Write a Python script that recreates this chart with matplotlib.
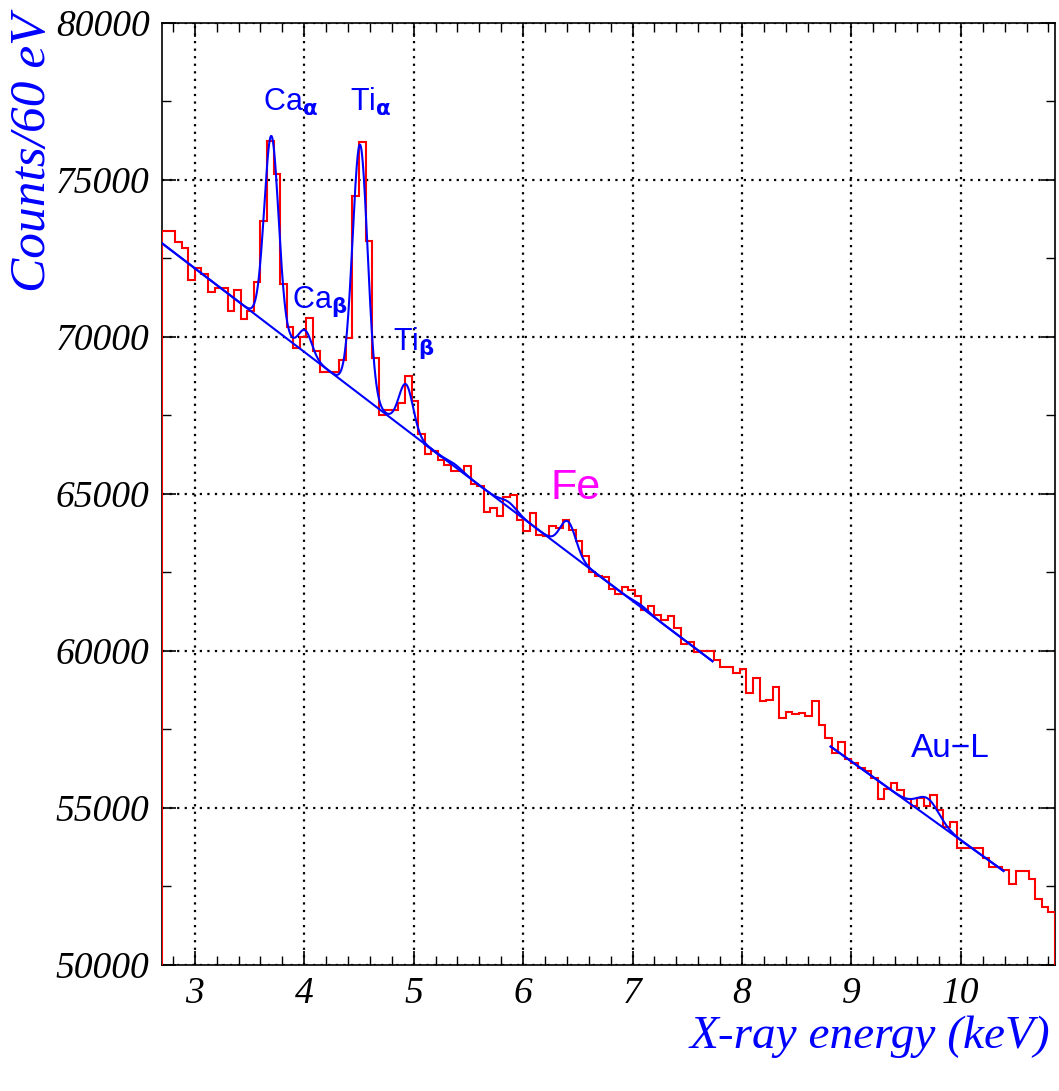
import numpy as np
import matplotlib
matplotlib.use('Agg')
import matplotlib.pyplot as plt
from matplotlib.ticker import MultipleLocator, ScalarFormatter

# ---------------- data ----------------
bin_start = 2.70          # keV, left edge of first bin
bin_width = 0.06          # keV (60 eV)
counts = [
    73358, 73358, 72998, 72807, 71800, 72193, 71981, 71430, 71557, 71536,
    70826, 71494, 70551, 70830, 71727, 73686, 76229, 75169, 71674, 70297,
    69650, 70000, 70583, 69545, 68888, 68888, 68888, 69259, 69968, 74470,
    76197, 73040, 69333, 67511, 67670, 67650, 67881, 68761, 67956, 66897,
    66270, 66348, 66083, 65900, 65711, 65711, 65892, 65318, 65234, 64405,
    64544, 64278, 64894, 64968, 64172, 63800, 64384, 63694, 63641, 63981,
    63907, 64150, 63832, 63482, 63004, 62495, 62367, 62346, 61964, 61815,
    62028, 61921, 61730, 61306, 61433, 61147, 60966, 61115, 60722, 60223,
    60297, 59947, 60000, 59979, 59713, 59480, 59480, 59289, 59416, 58652,
    59151, 58418, 58440, 58843, 57877, 58068, 57994, 58036, 57930, 58418,
    57643, 57240, 56741, 57091, 56560, 56444, 56284, 56178, 55966, 55286,
    55605, 55807, 55563, 55297, 55053, 55318, 55053, 55403, 54926, 54395,
    54554, 53737, 53737, 53737, 53737, 53418, 53121, 53121, 53015, 52590,
    52994, 52994, 52750, 52112, 51847, 51688,
]

# fit models (linear background + gaussian lines), parameters
fit_lo = [2.70, 5.10, 8.81]
fit_hi = [5.25, 7.73, 10.39]
fit_bg_ref = [2.70, 5.23, 8.81]
fit_bg_level = [72973, 66242, 56953]
fit_bg_slope = [-2660, -2629, -2506]
fit_centers = [[3.70, 4.01, 4.51, 4.93], [5.38, 5.87, 6.41, 7.08], [9.70]]
fit_amps = [[6075, 710, 7954, 1444], [80, 170, 980, 70], [570]]
fit_sigmas = [[0.065, 0.060, 0.068, 0.065], [0.07, 0.07, 0.072, 0.07], [0.10]]

# peak labels
label_texts = [r'Ca$_{\mathbf{\alpha}}$', r'Ti$_{\mathbf{\alpha}}$', r'Ca$_{\mathbf{\beta}}$',
               r'Ti$_{\mathbf{\beta}}$', 'Fe', 'Au\u2212L']
label_x = [3.623, 4.418, 3.888, 4.811, 6.250, 9.542]
label_y = [77198, 77198, 70900, 69563, 64828, 56617]
label_colors = ['blue', 'blue', 'blue', 'blue', 'magenta', 'blue']
label_sizes = [22, 22, 22, 22, 31, 24]

xlim = (2.70, 10.86)
ylim = (50000, 80000)

# ---------------- plot ----------------
W, H = 1059, 1091
fig = plt.figure(figsize=(W / 100, H / 100), dpi=100)
ax = fig.add_axes([162 / W, 1 - 965 / H, (1055 - 162) / W, (965 - 22.5) / H])

edges = bin_start + bin_width * np.arange(len(counts) + 1)
ax.stairs(counts, edges, baseline=0, color='#ff0000', lw=1.5, zorder=3)

for lo, hi, ref, lev, slp, cs, amps, sgs in zip(fit_lo, fit_hi, fit_bg_ref, fit_bg_level,
                                               fit_bg_slope, fit_centers, fit_amps, fit_sigmas):
    e = np.linspace(lo, hi, 600)
    bg = lev + slp * (e - ref)
    tot = bg.copy()
    for c, a, s in zip(cs, amps, sgs):
        tot += a * np.exp(-0.5 * ((e - c) / s) ** 2)
    ax.plot(e, bg, color='#0000ff', lw=1.5, zorder=4)
    ax.plot(e, tot, color='#0000ff', lw=1.5, zorder=4)

ax.set_xlim(*xlim)
ax.set_ylim(*ylim)

ax.xaxis.set_major_locator(MultipleLocator(1))
ax.xaxis.set_minor_locator(MultipleLocator(0.2))
ax.yaxis.set_major_locator(MultipleLocator(5000))
ax.yaxis.set_minor_locator(MultipleLocator(2500))
fmt = ScalarFormatter(useOffset=False)
fmt.set_scientific(False)
ax.yaxis.set_major_formatter(fmt)

ax.grid(True, which='major', color='black', linestyle=(0, (1, 2.4)), linewidth=1.6, zorder=1)
ax.set_axisbelow(True)

ax.tick_params(which='both', direction='in', top=True, right=True, color='black')
ax.tick_params(which='major', length=10, width=1.2)
ax.tick_params(which='minor', length=6.5, width=1.0)
ax.tick_params(axis='y', which='major', pad=9)
ax.tick_params(axis='x', which='major', pad=8)

for lab in ax.get_xticklabels() + ax.get_yticklabels():
    lab.set_fontfamily('Liberation Serif')
    lab.set_fontstyle('italic')
    lab.set_fontsize(27)

for sp in ax.spines.values():
    sp.set_linewidth(1.2)
    sp.set_color('black')

for t, x, y, c, s in zip(label_texts, label_x, label_y, label_colors, label_sizes):
    ax.text(x, y, t, color=c, fontsize=s, family='Liberation Sans',
            ha='left', va='baseline', zorder=5)

fig.text(1050 / W, 1 - 1037 / H, 'X-ray energy (keV)', ha='right', va='center',
         color='blue', fontsize=34, family='Liberation Serif', style='italic')
fig.text(33 / W, 1 - 14 / H, 'Counts/60 eV', rotation=90, ha='center', va='top',
         color='blue', fontsize=37, family='Liberation Serif', style='italic')

fig.savefig('out.png', dpi=100)
